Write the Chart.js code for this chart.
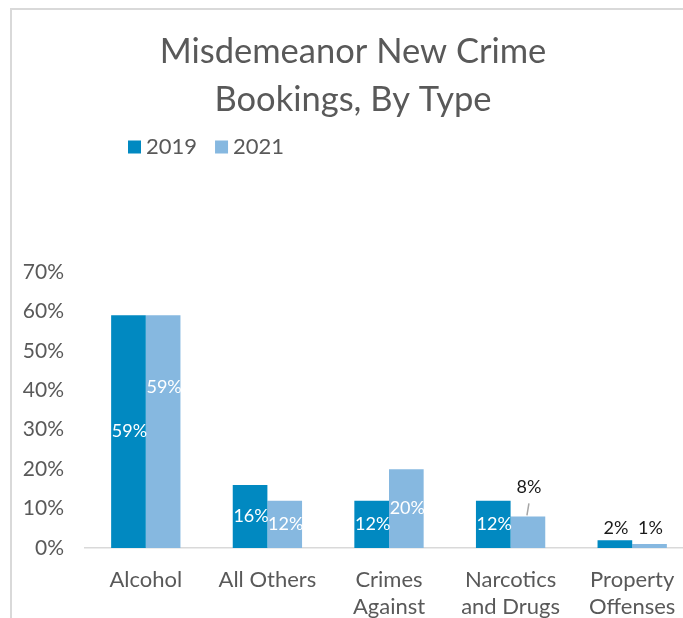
<!DOCTYPE html>
<html>
<head>
<meta charset="utf-8">
<script src="https://cdn.jsdelivr.net/npm/chart.js@4"></script>
<style>
    html, body { margin: 0; padding: 0; background: #fff; overflow: hidden; width: 683px; height: 618px; }
    #frame {
        position: absolute; left: 10px; top: 8px;
        width: 671px; height: 608px; overflow: hidden;
        border-top: 2px solid #d9d9d9; border-left: 2px solid #d9d9d9;
    }
    #bookingsChart { position: absolute; left: -11px; top: 0; display: block; }
</style>
</head>
<body>
<div id="frame"><canvas id="bookingsChart" width="720" height="660"></canvas></div>
<script>
// chart data
const categories = [
    "Alcohol",
    "All Others",
    ["Crimes", "Against", "Persons"],
    ["Narcotics", "and Drugs"],
    ["Property", "Offenses"]
];
const values2019 = [59, 16, 12, 12, 2];
const values2021 = [59, 12, 20, 8, 1];
const yTicks = [0, 10, 20, 30, 40, 50, 60, 70];

// where each data label sits (Excel moved a few by hand)
const placement2019 = ["center", "center", "center", "center", "above"];
const placement2021 = ["upper", "center", "center", "callout", "above"];

const FONT = "Lato, 'Liberation Sans', sans-serif";
const GREY = "#595959";

const barLabels = {
    id: "barLabels",
    afterDatasetsDraw(chart) {
        const ctx = chart.ctx;
        const metas = chart.data.datasets.map((_, di) => chart.getDatasetMeta(di));
        ctx.save();
        ctx.font = `18px ${FONT}`;
        ctx.textAlign = "center";
        ctx.textBaseline = "middle";
        chart.data.datasets.forEach((ds, di) => {
            metas[di].data.forEach((bar, i) => {
                const text = ds.data[i] + "%";
                const where = ds.placement[i];
                const h = bar.base - bar.y;
                let y;
                if (where === "center") {
                    ctx.fillStyle = "#ffffff";
                    y = bar.y + h / 2;
                } else if (where === "upper") {
                    ctx.fillStyle = "#ffffff";
                    y = bar.base - h * 0.69;
                } else if (where === "callout") {
                    ctx.fillStyle = "#1a1a1a";
                    y = bar.y - 29;
                    ctx.strokeStyle = "#a6a6a6";
                    ctx.lineWidth = 1.5;
                    ctx.beginPath();
                    ctx.moveTo(bar.x - 1, bar.y - 1);
                    ctx.lineTo(bar.x + 1, bar.y - 13);
                    ctx.stroke();
                } else {
                    // above: line up with the tallest bar of the group
                    ctx.fillStyle = "#1a1a1a";
                    const top = Math.min(...metas.map(m => m.data[i].y));
                    y = top - 12;
                }
                ctx.fillText(text, bar.x + 1, y);
            });
        });
        ctx.restore();
    }
};

const topLegend = {
    id: "topLegend",
    afterDraw(chart) {
        const ctx = chart.ctx;
        ctx.save();
        ctx.font = `22px ${FONT}`;
        ctx.textBaseline = "middle";
        let x = 127;
        const y = 137;
        chart.data.datasets.forEach(ds => {
            ctx.fillStyle = ds.backgroundColor;
            ctx.fillRect(x, y - 6.5, 13, 13);
            x += 18;
            ctx.fillStyle = GREY;
            ctx.fillText(ds.label, x, y);
            x += ctx.measureText(ds.label).width + 18;
        });
        ctx.restore();
    }
};

const ctx = document.getElementById("bookingsChart").getContext("2d");

new Chart(ctx, {
    type: "bar",
    data: {
        labels: categories,
        datasets: [
            {
                label: "2019",
                data: values2019,
                backgroundColor: "#0189c1",
                placement: placement2019
            },
            {
                label: "2021",
                data: values2021,
                backgroundColor: "#86b8e0",
                placement: placement2021
            }
        ]
    },
    options: {
        responsive: false,
        animation: false,
        categoryPercentage: 0.57,
        barPercentage: 1,
        layout: {
            padding: { left: 12, right: 28, top: 0, bottom: 5 }
        },
        plugins: {
            legend: { display: false },
            tooltip: { enabled: false },
            title: {
                display: true,
                text: ["Misdemeanor New Crime", "Bookings, By Type"],
                color: GREY,
                font: { family: FONT, size: 34.5, weight: "normal", lineHeight: 1.39 },
                padding: { top: 18, bottom: 148 }
            }
        },
        scales: {
            x: {
                grid: { display: false, drawTicks: false },
                border: { display: true, color: "#d9d9d9", width: 1.5 },
                ticks: {
                    color: GREY,
                    font: { family: FONT, size: 22, lineHeight: 1.227 },
                    padding: 18,
                    maxRotation: 0,
                    autoSkip: false
                }
            },
            y: {
                min: yTicks[0],
                max: yTicks[yTicks.length - 1],
                afterBuildTicks: axis => {
                    axis.ticks = yTicks.map(v => ({ value: v }));
                },
                afterFit: axis => {
                    axis.width = 72;
                },
                grid: { display: false, drawTicks: false },
                border: { display: false },
                ticks: {
                    color: GREY,
                    font: { family: FONT, size: 21 },
                    padding: 21,
                    callback: v => v + "%"
                }
            }
        }
    },
    plugins: [barLabels, topLegend]
});
</script>
</body>
</html>
